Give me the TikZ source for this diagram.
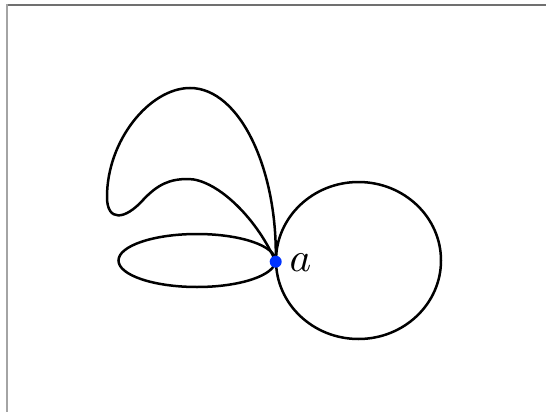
\documentclass[tikz,border=0pt]{standalone}
\usetikzlibrary{positioning}
\definecolor{DotBlue}{HTML}{0033FF}
\definecolor{FrameDark}{HTML}{707070}
\definecolor{FrameLight}{HTML}{A4A4A4}

\begin{document}
\begin{tikzpicture}[x=1pt,y=-1pt]
    \tikzset{curve/.style={line width=2.5pt,black},
      dot/.style={circle,fill=DotBlue,inner sep=0pt,minimum size=12pt}}
    \useasboundingbox (0,0) rectangle (546,412);
    \draw[FrameDark,line width=2pt] (6,5) -- (546,5);
    \draw[FrameLight,line width=2pt] (7,412) -- (7,4);
    \coordinate (a) at (275.7,261.7);
    % right circle and left ellipse
    \draw[curve] (358.5,260.5) ellipse [x radius=82.5, y radius=78.5];
    \draw[curve] (197,260.5) ellipse [x radius=78.5, y radius=26.5];
    % the big loop
    \draw[curve] (a) .. controls (278,170) and (240,88) .. (190,88)
      .. controls (150,88) and (107,140) .. (107,197)
      .. controls (107,222) and (125,220) .. (143,200)
      .. controls (158,184) and (170,179) .. (188,179)
      .. controls (215,179) and (255,215) .. (a);
    \node[dot] (pa) at (a) {};
    \node[scale=4.1] (lbl) at (300.5,263) {$a$};
\end{tikzpicture}
\end{document}
